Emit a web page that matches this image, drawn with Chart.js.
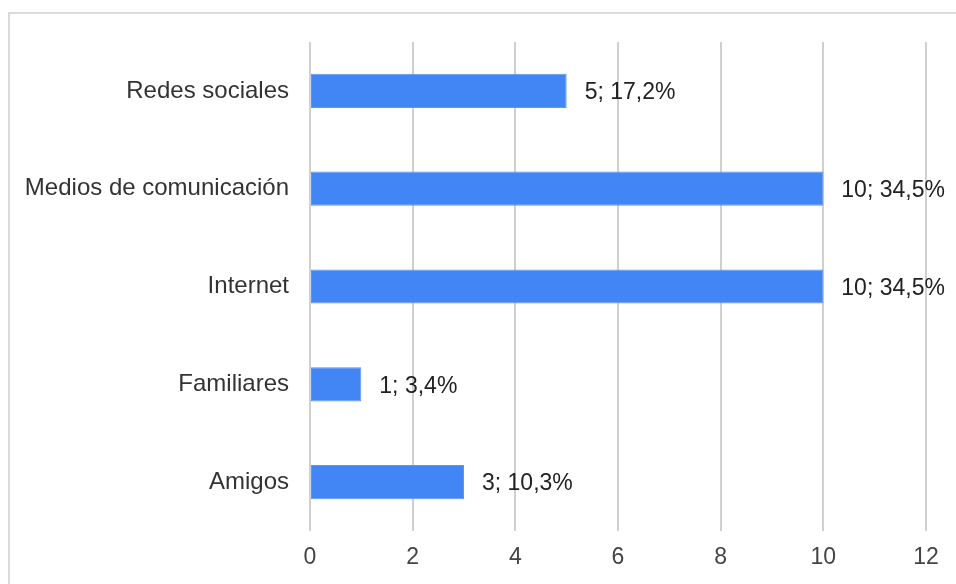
<!DOCTYPE html>
<html>
<head>
<meta charset="utf-8">
<script src="https://cdn.jsdelivr.net/npm/chart.js@4"></script>
<style>
  html, body { margin: 0; padding: 0; background: #fff; }
  #wrap { position: relative; width: 956px; height: 584px; }
  #frame { position: absolute; left: 8px; top: 12px; right: 0; bottom: 0; border-left: 2px solid #dadada; border-top: 2px solid #dadada; }
  canvas { position: absolute; left: 0; top: 0; }
</style>
</head>
<body>
<div id="wrap">
  <div id="frame"></div>
  <canvas id="chart" width="956" height="584"></canvas>
</div>
<script>
// categorías y número de respuestas
const categorias = ['Redes sociales', 'Medios de comunicación', 'Internet', 'Familiares', 'Amigos'];
const respuestas = [5, 10, 10, 1, 3];
const ticksX = [0, 2, 4, 6, 8, 10, 12];

const total = respuestas.reduce((a, b) => a + b, 0);
const etiquetas = respuestas.map(v => v + '; ' + (v / total * 100).toFixed(1).replace('.', ',') + '%');

const fuente = "'Liberation Sans', Arial, sans-serif";

// etiqueta "valor; porcentaje" a la derecha de cada barra
const etiquetasBarras = {
    id: 'etiquetasBarras',
    afterDatasetsDraw(chart) {
        const ctx = chart.ctx;
        const meta = chart.getDatasetMeta(0);
        ctx.save();
        ctx.font = '23px ' + fuente;
        ctx.fillStyle = '#222';
        ctx.textAlign = 'left';
        ctx.textBaseline = 'middle';
        meta.data.forEach((bar, i) => {
            ctx.fillText(etiquetas[i], bar.x + 18, bar.y + 2);
        });
        ctx.restore();
    }
};

new Chart(document.getElementById('chart'), {
    type: 'bar',
    data: {
        labels: categorias,
        datasets: [{
            data: respuestas,
            backgroundColor: '#4285f4',
            borderColor: '#5b95f5',
            borderWidth: 1,
            borderSkipped: false,
            categoryPercentage: 1,
            barPercentage: 0.35
        }]
    },
    options: {
        indexAxis: 'y',
        responsive: false,
        animation: false,
        layout: { padding: { top: 42, right: 30, left: 0, bottom: 0 } },
        plugins: { legend: { display: false }, tooltip: { enabled: false } },
        scales: {
            x: {
                min: 0, max: 12,
                afterBuildTicks: s => { s.ticks = ticksX.map(v => ({ value: v })); },
                afterFit: s => { s.height = 53; },
                grid: { color: '#d0d0d0', lineWidth: 2, drawTicks: false },
                border: { display: false },
                ticks: { color: '#444', padding: 13, font: { size: 23, family: fuente } }
            },
            y: {
                afterFit: s => { s.width = 310; },
                grid: { display: false, drawTicks: false },
                border: { display: false },
                ticks: { color: '#333', padding: 21, font: { size: 24, family: fuente } }
            }
        }
    },
    plugins: [etiquetasBarras]
});
</script>
</body>
</html>
